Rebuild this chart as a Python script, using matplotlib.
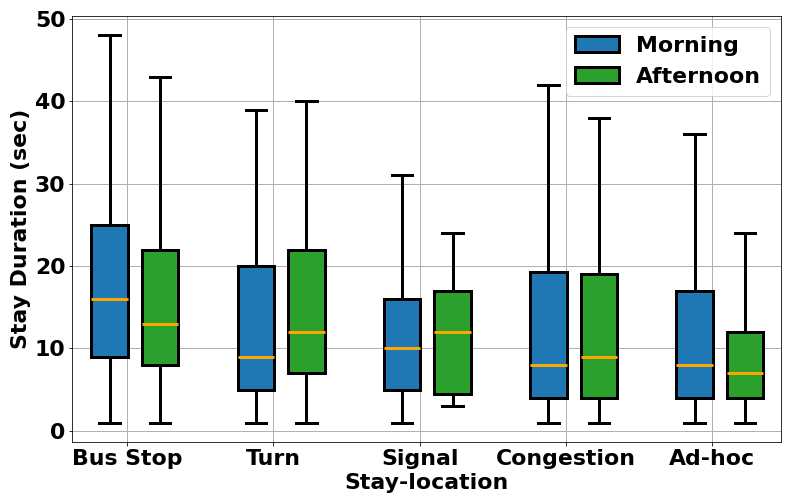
import matplotlib
matplotlib.use("Agg")
import matplotlib.pyplot as plt
from matplotlib.patches import Patch

categories = ["Bus Stop", "Turn", "Signal", "Congestion", "Ad-hoc"]

morning_whislo = [1, 1, 1, 1, 1]
morning_q1 = [9, 5, 5, 4, 4]
morning_med = [16, 9, 10, 8, 8]
morning_q3 = [25, 20, 16, 19.3, 17]
morning_whishi = [48, 39, 31, 42, 36]

afternoon_whislo = [1, 1, 3, 1, 1]
afternoon_q1 = [8, 7, 4.5, 4, 4]
afternoon_med = [13, 12, 12, 9, 7]
afternoon_q3 = [22, 22, 17, 19, 12]
afternoon_whishi = [43, 40, 24, 38, 24]

plt.rcParams['font.family'] = ['DejaVu Sans']
plt.rcParams['font.weight'] = 'bold'

FS = 22

fig = plt.figure(figsize=(11, 7), dpi=72)
ax = fig.add_axes([72.3/792, 1 - 442/504, (781-72.3)/792, (442-16)/504])


def stats(lo, q1, med, q3, hi):
    return [dict(whislo=a, q1=b, med=c, q3=d, whishi=e, fliers=[])
            for a, b, c, d, e in zip(lo, q1, med, q3, hi)]


common = dict(widths=0.25, capwidths=0.14, patch_artist=True, showfliers=False,
              boxprops=dict(linewidth=3, edgecolor='black'),
              whiskerprops=dict(linewidth=3, color='black'),
              capprops=dict(linewidth=3, color='black'),
              medianprops=dict(linewidth=3, color='orange'),
              manage_ticks=False)

x = list(range(len(categories)))
bm = ax.bxp(stats(morning_whislo, morning_q1, morning_med, morning_q3, morning_whishi),
            positions=[i - 0.12 for i in x], **common)
ba = ax.bxp(stats(afternoon_whislo, afternoon_q1, afternoon_med, afternoon_q3, afternoon_whishi),
            positions=[i + 0.225 for i in x], **common)
for b in bm['boxes']:
    b.set_facecolor('#1f77b4')
for b in ba['boxes']:
    b.set_facecolor('#2ca02c')

ax.set_xticks(x)
ax.set_xticklabels(categories, fontsize=FS, fontweight='bold')
ax.set_xlim(-0.376, 4.471)
ax.set_ylim(-1.35, 50.35)
ax.set_yticks([0, 10, 20, 30, 40, 50])
ax.tick_params(axis='y', labelsize=FS)
for t in ax.get_yticklabels():
    t.set_fontweight('bold')
ax.grid(True, color='#b0b0b0', linewidth=1)
ax.set_axisbelow(True)
ax.set_xlabel("Stay-location", fontsize=FS, fontweight='bold', labelpad=4)
ax.set_ylabel("Stay Duration (sec)", fontsize=FS, fontweight='bold')

handles = [Patch(facecolor='#1f77b4', edgecolor='black', linewidth=3, label='Morning'),
           Patch(facecolor='#2ca02c', edgecolor='black', linewidth=3, label='Afternoon')]
ax.legend(handles=handles, loc='upper right', prop=dict(size=FS, weight='bold'))

fig.savefig("out.png", dpi=72)
